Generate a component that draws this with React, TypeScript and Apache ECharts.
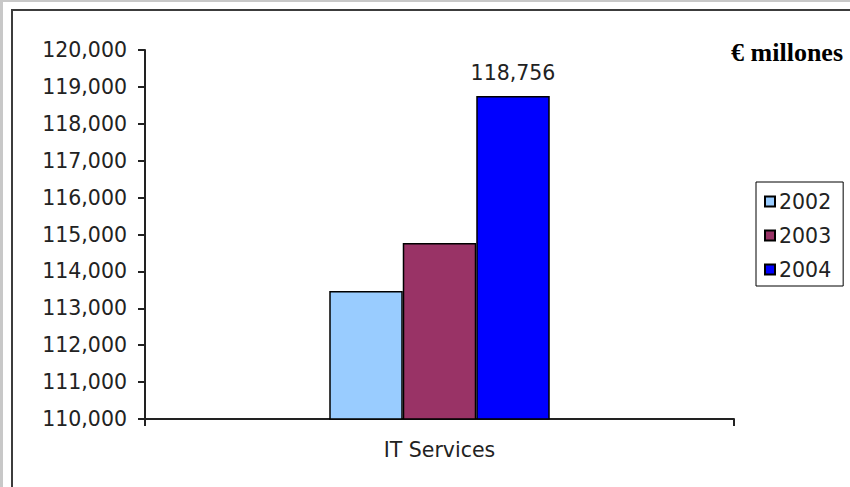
import React, { useEffect, useRef } from "react";
import * as echarts from "echarts";

const categories = ["IT Services"];
const seriesNames = ["2002", "2003", "2004"];
const values2002 = [113470];
const values2003 = [114770];
const values2004 = [118756];
const colors = ["#99ccff", "#993366", "#0000ff"];
const yMin = 110000;
const yMax = 120000;
const yInterval = 1000;
const unitLabel = "€ millones";

const fmt = (v: number) => v.toLocaleString("en-US");

export default function App() {
  const ref = useRef<HTMLDivElement>(null);
  useEffect(() => {
    if (!ref.current) return;
    const chart = echarts.init(ref.current, undefined, { renderer: "svg" });
    const font = "DejaVu Sans";
    const fs = 20.5;
    const data = [values2002, values2003, values2004];
    chart.setOption({
      animation: false,
      backgroundColor: "#ffffff",
      graphic: [
        { type: "rect", z: -10, silent: true, shape: { x: 0, y: 0, width: 850, height: 487 }, style: { fill: "#c8c8c8" } },
        { type: "rect", z: -9, silent: true, shape: { x: 3, y: 2, width: 850, height: 490 }, style: { fill: "#ffffff" } },
        { type: "rect", z: -8, silent: true, shape: { x: 12, y: 10, width: 900, height: 500 }, style: { fill: "none", stroke: "#3c3c3c", lineWidth: 2 } },
        {
          type: "text",
          x: 843,
          y: 52,
          style: {
            text: unitLabel,
            align: "right",
            verticalAlign: "middle",
            font: "bold 26px 'Liberation Serif'",
            fill: "#000",
          },
        },
      ],
      legend: {
        orient: "vertical",
        left: 756,
        top: 182,
        padding: [9, 12, 6, 8],
        itemGap: 13,
        itemWidth: 10,
        itemHeight: 10,
        icon: "rect",
        borderColor: "#000",
        borderWidth: 1,
        borderRadius: 0,
        textStyle: { fontFamily: font, fontSize: fs, color: "#222", padding: [0, 0, 0, -1] },
        data: seriesNames,
      },
      grid: { left: 145, right: 116, top: 50, bottom: 68 },
      xAxis: {
        type: "category",
        data: categories,
        boundaryGap: true,
        axisLine: { lineStyle: { color: "#222", width: 2 } },
        axisTick: { show: true, length: 7, lineStyle: { color: "#222", width: 2 } },
        axisLabel: { fontFamily: font, fontSize: fs, color: "#222", margin: 20 },
      },
      yAxis: {
        type: "value",
        min: yMin,
        max: yMax,
        interval: yInterval,
        splitLine: { show: false },
        axisLine: { show: true, lineStyle: { color: "#222", width: 2 } },
        axisTick: { show: true, length: 7, lineStyle: { color: "#222", width: 2 } },
        axisLabel: { fontFamily: font, fontSize: fs, color: "#222", margin: 18, formatter: (v: number) => fmt(v) },
      },
      series: seriesNames.map((name, i) => ({
        name,
        type: "bar",
        data: data[i],
        barWidth: 73.5,
        barGap: "0%",
        itemStyle: { color: colors[i], borderColor: "#000", borderWidth: 1.5 },
        label: {
          show: i === 2,
          position: "top",
          distance: 12,
          fontFamily: font,
          fontSize: fs,
          color: "#222",
          formatter: (p: any) => fmt(p.value),
        },
      })),
    });
    return () => chart.dispose();
  }, []);
  return <div ref={ref} style={{ position: "fixed", left: 0, top: 0, width: 850, height: 487 }} />;
}
